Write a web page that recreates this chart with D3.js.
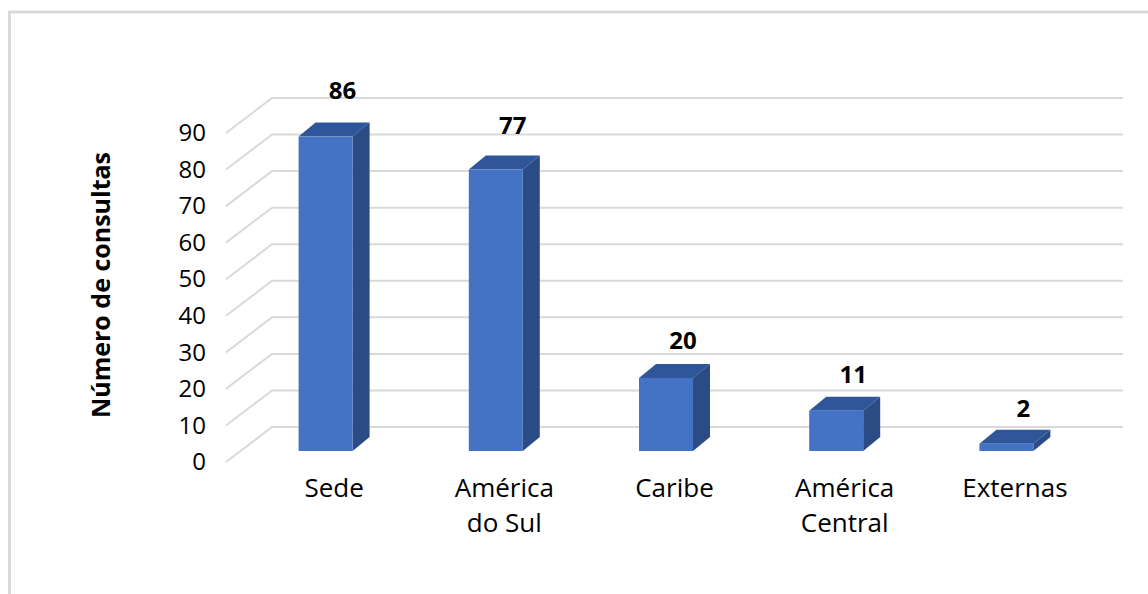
<!DOCTYPE html>
<html>
<head>
<meta charset="utf-8">
<script src="https://cdn.jsdelivr.net/npm/d3@7"></script>
<style>
  body { margin: 0; background: #fff; }
  svg { display: block; font-family: "Open Sans", sans-serif; }
</style>
</head>
<body>
<script>
const categories = ['Sede', 'América do Sul', 'Caribe', 'América Central', 'Externas'];
const categoryLines = [['Sede'], ['América', 'do Sul'], ['Caribe'], ['América', 'Central'], ['Externas']];
const consultas = [86, 77, 20, 11, 2];
const yTicks = [0, 10, 20, 30, 40, 50, 60, 70, 80, 90];

const width = 1148;
const height = 594;

// oblique depth of the plot box and of each bar
const wallDx = 46, wallDy = -35;
const barOffX = 14.5, barOffY = -11;
const barDx = 17, barDy = -14;
const barW = 54;

const svg = d3.select('body').append('svg').attr('width', width).attr('height', height);

// chart frame
svg.append('rect').attr('x', 9.5).attr('y', 12).attr('width', width + 20).attr('height', height + 20)
    .style('fill', 'none').style('stroke', '#d9d9d9').style('stroke-width', 3);

const x = d3.scaleBand().domain(categories).range([226, 1077]);
const y = d3.scaleLinear().domain([0, 90]).range([462, 133]);

// gridlines: slanted side wall + back wall
const grid = svg.append('g').style('stroke', '#d9d9d9').style('stroke-width', 2).style('fill', 'none');
yTicks.forEach(t => {
    const x0 = x.range()[0], x1 = x.range()[1];
    grid.append('path')
        .attr('d', `M${x0},${y(t)}L${x0 + wallDx},${y(t) + wallDy}L${x1 + wallDx},${y(t) + wallDy}`);
});

// value axis labels
const yAxis = svg.append('g').attr('transform', 'translate(206,0)')
    .call(d3.axisLeft(y).tickValues(yTicks).tickSize(0).tickPadding(0));
yAxis.select('.domain').remove();
yAxis.selectAll('text').style('font-family', '"Open Sans", sans-serif').style('font-size', '24px').style('fill', '#000');

// bars
const bars = svg.selectAll('g.bar').data(consultas).enter().append('g').classed('bar', true);
bars.each(function (v, i) {
    const g = d3.select(this);
    const left = x(categories[i]) + x.bandwidth() / 2 - barW / 2 + barOffX;
    const right = left + barW;
    const bottom = y(0) + barOffY;
    const top = y(v) + barOffY;
    // top face
    g.append('path').attr('d', `M${left},${top}L${left + barDx},${top + barDy}L${right + barDx},${top + barDy}L${right},${top}Z`)
        .style('fill', '#30569a');
    // side face
    g.append('path').attr('d', `M${right},${top}L${right + barDx},${top + barDy}L${right + barDx},${bottom + barDy}L${right},${bottom}Z`)
        .style('fill', '#2b4b84');
    // front face
    g.append('rect').attr('x', left).attr('y', top).attr('width', barW).attr('height', bottom - top)
        .style('fill', '#4472c4');
    // value label
    g.append('text')
        .attr('x', left + barW / 2 + barDx)
        .attr('y', top + barDy - 12 - v * 0.13)
        .text(v)
        .style('text-anchor', 'middle')
        .style('font-size', '24px')
        .style('font-weight', 'bold');
});

// category labels
const catLabels = svg.selectAll('text.cat').data(categoryLines).enter().append('text').classed('cat', true)
    .attr('x', (d, i) => x(categories[i]) + x.bandwidth() / 2 + wallDx / 2)
    .attr('y', 497)
    .style('text-anchor', 'middle')
    .style('font-size', '26px');
catLabels.selectAll('tspan').data(d => d).enter().append('tspan')
    .attr('x', function () { return d3.select(this.parentNode).attr('x'); })
    .attr('dy', (d, j) => j === 0 ? 0 : 35)
    .text(d => d);

// axis title
svg.append('text')
    .attr('transform', 'translate(110,285) rotate(-90)')
    .text('Número de consultas')
    .style('text-anchor', 'middle')
    .style('font-size', '25px')
    .style('font-weight', 'bold');
</script>
</body>
</html>
